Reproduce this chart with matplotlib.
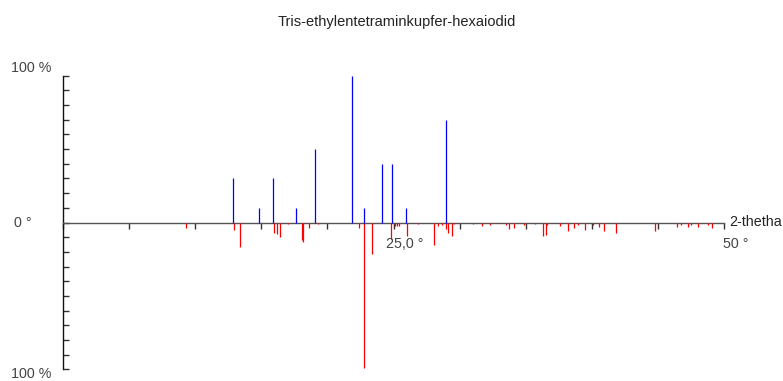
import matplotlib
matplotlib.use("Agg")
import matplotlib.pyplot as plt

title = "Tris-ethylentetraminkupfer-hexaiodid"

# upper (blue) reflexes: 2-theta (deg), relative intensity (%)
blue_pos = [12.84, 14.81, 15.92, 17.62, 19.06, 21.86, 22.79, 24.15, 24.91, 25.95, 28.95]
blue_int = [30, 10, 30, 10, 50, 100, 10, 40, 40, 10, 70]

# lower (red) reflexes: 2-theta (deg), relative intensity (%)
red_pos = [9.28, 12.96, 13.37, 15.98, 16.16, 16.39, 17.04, 18.06, 18.13, 18.63,
           19.31, 20.88, 22.39, 22.75, 23.41, 24.79, 25.14, 25.29, 25.40, 26.00,
           26.82, 28.06, 28.33, 28.65, 28.99, 29.15, 29.40, 29.58, 30.54, 30.99,
           31.68, 32.30, 32.75, 33.51, 33.77, 34.14, 34.89, 35.40, 35.70, 36.33,
           36.50, 36.63, 37.62, 38.22, 38.69, 38.98, 39.52, 40.11, 40.51, 40.94,
           41.83, 42.51, 43.14, 43.90, 44.76, 46.41, 46.75, 47.30, 47.48, 48.03,
           48.49, 48.81, 49.07]
red_int = [3.5, 4.8, 16.5, 7, 7.5, 9.8, 1, 12, 13, 3.6,
           1, 0.5, 3.6, 99, 21.5, 11, 2.5, 2.5, 2.5, 9.5,
           1.2, 15.3, 2.3, 1.5, 4.2, 7, 9.3, 1.2, 0.5, 1.3,
           2.5, 1.5, 0.6, 1.5, 4.6, 3.6, 1.6, 0.6, 1.3, 9.5,
           8.4, 1.5, 2.5, 5.5, 3.8, 2, 5.4, 1.5, 3, 5.6,
           7.2, 0.5, 0.5, 0.5, 5.6, 3, 1.5, 3, 2, 3,
           0.6, 2, 4]

x_ticks = [0, 5, 10, 15, 20, 25, 30, 35, 40, 45, 50]
y_ticks = list(range(-100, 101, 10))

W, H = 783, 381
fig = plt.figure(figsize=(W / 100, H / 100), dpi=100)
fig.patch.set_facecolor("white")

x0, x1 = 63, 724
y_top, y_bot = 75.7, 369.3
ax = fig.add_axes([x0 / W, (H - y_bot) / H, (x1 - x0) / W, (y_bot - y_top) / H])
ax.set_xlim(0, 50)
ax.set_ylim(-100, 100)
ax.set_facecolor("none")

for s in ["top", "right"]:
    ax.spines[s].set_visible(False)
ax.spines["bottom"].set_position(("data", 0))
ax.spines["bottom"].set_color("#555555")
ax.spines["bottom"].set_linewidth(1.0)
ax.spines["left"].set_color("#111111")
ax.spines["left"].set_linewidth(1.0)

ax.set_xticks(x_ticks)
ax.set_yticks(y_ticks)
ax.tick_params(axis="x", direction="out", length=4, width=1, color="#333333", labelbottom=False)
ax.tick_params(axis="y", direction="in", length=4.5, width=1, color="#333333", labelleft=False)

ax.vlines(red_pos, 0, [-v for v in red_int], colors="#ff0000", linewidth=0.9, zorder=3)
ax.vlines(blue_pos, 0, blue_int, colors="#0000ff", linewidth=0.9, zorder=3)

txt = dict(fontfamily="Liberation Sans", color="#444444", fontsize=10.3)
def ftext(px, py, s, ha="left", va="baseline", **kw):
    d = dict(txt); d.update(kw)
    fig.text(px / W, 1 - py / H, s, ha=ha, va=va, **d)

ftext(396.5, 26, title, ha="center", color="#222222", fontsize=10.5)
ftext(11, 72.3, "100 %")
ftext(14, 226.5, "0 °")
ftext(11, 378.5, "100 %")
ftext(386, 248.5, "25,0 °")
ftext(723, 248.3, "50 °")
ftext(729, 225.7, "2-thetha", color="#222222")

fig.savefig("out.png", dpi=100, facecolor="white")
